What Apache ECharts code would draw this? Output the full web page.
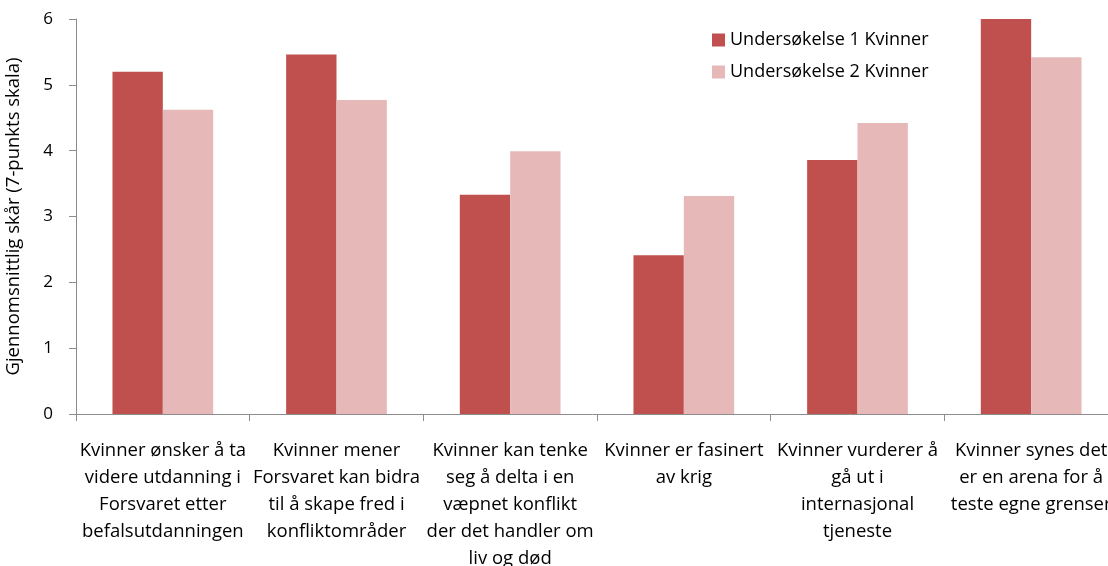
<!DOCTYPE html>
<html>
<head>
<meta charset="utf-8">
<script src="https://cdn.jsdelivr.net/npm/echarts@6/dist/echarts.min.js"></script>
<style>
  html, body { margin: 0; padding: 0; background: #fff; }
  #main { width: 1108px; height: 566px; }
</style>
</head>
<body>
<div id="main"></div>
<script>
// kategorier (linjeskift som i originalen)
var categories = [
    'Kvinner ønsker å ta\nvidere utdanning i\nForsvaret etter\nbefalsutdanningen',
    'Kvinner mener\nForsvaret kan bidra\ntil å skape fred i\nkonfliktområder',
    'Kvinner kan tenke\nseg å delta i en\nvæpnet konflikt\nder det handler om\nliv og død',
    'Kvinner er fasinert\nav krig',
    'Kvinner vurderer å\ngå ut i\ninternasjonal\ntjeneste',
    'Kvinner synes det\ner en arena for å\nteste egne grenser'
];
var undersokelse1 = [5.2, 5.46, 3.33, 2.41, 3.86, 6.0];
var undersokelse2 = [4.62, 4.77, 3.99, 3.31, 4.42, 5.42];
var seriesNames = ['Undersøkelse 1 Kvinner', 'Undersøkelse 2 Kvinner'];
var yTicks = [0, 1, 2, 3, 4, 5, 6];

var fontFam = '"Open Sans", "Noto Sans", sans-serif';
var myChart = echarts.init(document.getElementById('main'));

var option = {
    animation: false,
    textStyle: { fontFamily: fontFam },
    legend: {
        orient: 'vertical',
        left: 707,
        top: 26,
        itemWidth: 13,
        itemHeight: 13,
        itemGap: 14,
        icon: 'rect',
        textStyle: { fontSize: 18, color: '#000', fontFamily: fontFam },
        data: seriesNames
    },
    grid: {
        left: 76,
        right: -10,
        top: 19,
        bottom: 152,
        outerBoundsMode: 'none'
    },
    xAxis: {
        type: 'category',
        data: categories,
        axisLine: { lineStyle: { color: '#8c8c8c' } },
        axisTick: { show: true, alignWithLabel: false, length: 7, lineStyle: { color: '#8c8c8c' } },
        axisLabel: {
            interval: 0,
            margin: 23,
            color: '#000',
            fontSize: 18.5,
            lineHeight: 27,
            align: 'center',
            fontFamily: fontFam
        }
    },
    yAxis: {
        type: 'value',
        min: yTicks[0],
        max: yTicks[yTicks.length - 1],
        interval: 1,
        name: 'Gjennomsnittlig skår (7-punkts skala)',
        nameLocation: 'middle',
        nameGap: 53,
        nameTextStyle: { fontSize: 18.5, color: '#000', fontFamily: fontFam },
        axisLine: { show: true, lineStyle: { color: '#8c8c8c' } },
        axisTick: { show: true, length: 7, lineStyle: { color: '#8c8c8c' } },
        splitLine: { show: false },
        axisLabel: { color: '#000', fontSize: 17, margin: 23, fontFamily: fontFam }
    },
    series: [
        {
            name: seriesNames[0],
            type: 'bar',
            barGap: '0%',
            barCategoryGap: '42%',
            itemStyle: { color: '#C0504D' },
            data: undersokelse1
        },
        {
            name: seriesNames[1],
            type: 'bar',
            itemStyle: { color: '#E6B9B8' },
            data: undersokelse2
        }
    ]
};
myChart.setOption(option);
</script>
</body>
</html>
